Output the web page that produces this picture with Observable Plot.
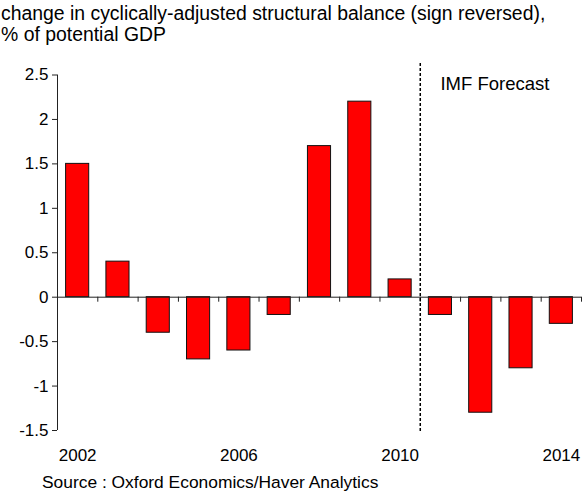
<!DOCTYPE html>
<html>
<head>
<meta charset="utf-8">
<script src="https://cdn.jsdelivr.net/npm/d3@7"></script>
<script src="https://cdn.jsdelivr.net/npm/@observablehq/plot@0.6"></script>
<style>
  html, body { margin: 0; padding: 0; background: #fff; }
  body { width: 582px; height: 492px; overflow: hidden; font-family: "Liberation Sans", Arial, sans-serif; color: #000; }
  #title { font-size: 19.4px; line-height: 21px; padding: 3px 0 0 1px; height: 41px; white-space: nowrap; }
  #chart svg { display: block; }
  #source { font-size: 17.4px; line-height: 20px; padding-left: 42px; white-space: nowrap; }
</style>
</head>
<body>
<div id="title">change in cyclically-adjusted structural balance (sign reversed),<br>% of potential GDP</div>
<div id="chart"></div>
<div id="source">Source : Oxford Economics/Haver Analytics</div>
<script>
const years = [2002, 2003, 2004, 2005, 2006, 2007, 2008, 2009, 2010, 2011, 2012, 2013, 2014];
const values = [1.5, 0.4, -0.4, -0.7, -0.6, -0.2, 1.7, 2.2, 0.2, -0.2, -1.3, -0.8, -0.3];
const yTicks = [-1.5, -1, -0.5, 0, 0.5, 1, 1.5, 2, 2.5];
const xTickLabels = [2002, 2006, 2010, 2014];
const forecastStart = 2010.5;
const forecastLabel = ["IMF Forecast"];

const data = years.map((year, i) => ({year, value: values[i]}));
const boundaries = years.map(y => y + 0.5);
const yMin = yTicks[0], yMax = yTicks[yTicks.length - 1];

const chart = Plot.plot({
  width: 582,
  height: 428,
  marginTop: 19,
  marginBottom: 40,
  marginLeft: 57,
  marginRight: 1,
  style: {fontFamily: "Liberation Sans, Arial, sans-serif", fontSize: "17px", color: "#000", background: "#fff"},
  x: {type: "linear", domain: [years[0] - 0.5, years[years.length - 1] + 0.5]},
  y: {domain: [yMin, yMax], range: [386, 30.5]},
  marks: [
    Plot.rectY(data, {x1: d => d.year - 0.5, x2: d => d.year + 0.5, y1: 0, y2: "value",
      fill: "#ff0000", stroke: "#111", strokeWidth: 1, insetLeft: 8.6, insetRight: 8.6}),
    Plot.ruleY([0], {stroke: "#222", strokeWidth: 1}),
    Plot.ruleX(boundaries, {x: d => d, y1: 0, y2: 0, insetTop: 0, insetBottom: -5, stroke: "#222", strokeWidth: 1}),
    Plot.ruleX([years[0] - 0.5], {y1: yMin, y2: yMax, stroke: "#222", strokeWidth: 1}),
    Plot.axisY({ticks: yTicks, tickSize: 5, tickPadding: 4, tickFormat: d => String(d), fontSize: 17, stroke: "#222", label: null}),
    Plot.axisX({ticks: xTickLabels, tickSize: 0, tickPadding: 16, tickFormat: d => String(d), fontSize: 17, label: null, anchor: "bottom"}),
    Plot.ruleX([forecastStart], {stroke: "#000", strokeWidth: 1.5, strokeDasharray: "3,2"}),
    Plot.text(forecastLabel, {x: forecastStart + 0.5, y: 2.4, text: d => d, textAnchor: "start", fontSize: 18.5, fill: "#000"})
  ]
});
document.getElementById("chart").appendChild(chart);
</script>
</body>
</html>
